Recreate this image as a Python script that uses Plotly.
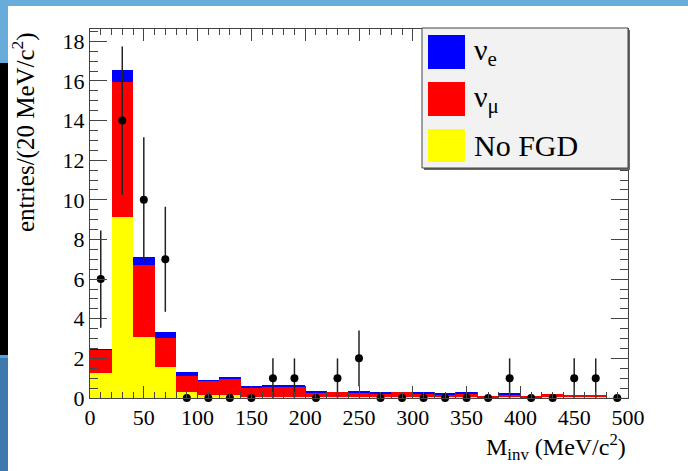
import plotly.graph_objects as go

# ---- data ----
bin_centers = [10, 30, 50, 70, 90, 110, 130, 150, 170, 190, 210, 230, 250, 270, 290,
               310, 330, 350, 370, 390, 410, 430, 450, 470, 490]
no_fgd = [1.26, 9.14, 3.10, 1.55, 0.32, 0.15, 0.13, 0.05, 0.05, 0.04, 0.04, 0.04, 0.04,
          0.04, 0.04, 0.04, 0.04, 0.04, 0.03, 0.04, 0.03, 0.10, 0.03, 0.03, 0.03]
nu_mu = [1.19, 6.81, 3.63, 1.49, 0.81, 0.71, 0.83, 0.47, 0.54, 0.52, 0.25, 0.27, 0.23,
         0.20, 0.25, 0.20, 0.16, 0.20, 0.06, 0.15, 0.06, 0.10, 0.11, 0.11, 0.00]
nu_e = [0.02, 0.59, 0.39, 0.28, 0.20, 0.03, 0.07, 0.04, 0.09, 0.05, 0.08, 0.00, 0.05,
        0.08, 0.00, 0.07, 0.05, 0.07, 0.00, 0.06, 0.00, 0.00, 0.00, 0.00, 0.00]
data_counts = [6, 14, 10, 7, 0, 0, 0, 0, 1, 1, 0, 1, 2, 0, 0, 0, 0, 0, 0, 1, 0, 0, 1, 1, 0]
data_errors = [2.45, 3.74, 3.16, 2.65, 0, 0, 0, 0, 1, 1, 0, 1, 1.41, 0, 0, 0, 0, 0, 0, 1,
               0, 0, 1, 1, 0]
x_ticks = [0, 50, 100, 150, 200, 250, 300, 350, 400, 450, 500]
y_ticks = [0, 2, 4, 6, 8, 10, 12, 14, 16, 18]

W, H = 688, 471
ML, MR, MT, MB = 90, 60, 29, 73
PW, PH = W - ML - MR, H - MT - MB


def px(xp):
    return (xp - ML) / PW


def py(yp):
    return (H - MB - yp) / PH


FONT = "Liberation Serif"

fig = go.Figure()
fig.add_trace(go.Bar(x=bin_centers, y=no_fgd, width=20, marker=dict(color="#ffff00", line=dict(width=0)), name="No FGD"))
fig.add_trace(go.Bar(x=bin_centers, y=nu_mu, width=20, marker=dict(color="#ff0000", line=dict(width=0)), name="ν_μ"))
fig.add_trace(go.Bar(x=bin_centers, y=nu_e, width=20, marker=dict(color="#0000ff", line=dict(width=0)), name="ν_e"))
fig.add_trace(go.Scatter(
    x=bin_centers, y=data_counts, mode="markers",
    marker=dict(color="black", size=8),
    error_y=dict(type="data", array=data_errors, visible=True, color="#222222", thickness=1.5, width=0),
    cliponaxis=False, name="data"))

axis_common = dict(
    showline=True, linecolor="#444444", linewidth=1, mirror="ticks",
    ticks="inside", tickcolor="#444444", showgrid=False, zeroline=False,
    tickfont=dict(family=FONT, size=22, color="black"),
)
fig.update_xaxes(range=[0, 500], tickvals=x_ticks, ticklen=12, tickwidth=1,
                 minor=dict(ticks="inside", dtick=10, ticklen=6, tickcolor="#444444", showgrid=False),
                 **axis_common)
fig.update_yaxes(range=[0, 18.62], tickvals=y_ticks, ticklen=17, tickwidth=1,
                 minor=dict(ticks="inside", dtick=0.5, ticklen=8, tickcolor="#444444", showgrid=False),
                 **axis_common)

shapes = []
# screenshot frame decoration
shapes.append(dict(type="rect", xref="paper", yref="paper", x0=px(0), x1=px(W), y0=py(6), y1=py(0),
                   fillcolor="#68acda", line=dict(width=0), layer="above"))
shapes.append(dict(type="rect", xref="paper", yref="paper", x0=px(0), x1=px(8), y0=py(63), y1=py(0),
                   fillcolor="#68acda", line=dict(width=0), layer="above"))
shapes.append(dict(type="rect", xref="paper", yref="paper", x0=px(0), x1=px(8), y0=py(355), y1=py(63),
                   fillcolor="#000000", line=dict(width=0), layer="above"))
shapes.append(dict(type="rect", xref="paper", yref="paper", x0=px(0), x1=px(8), y0=py(358), y1=py(355),
                   fillcolor="#4aa6e6", line=dict(width=0), layer="above"))
shapes.append(dict(type="rect", xref="paper", yref="paper", x0=px(0), x1=px(8), y0=py(H), y1=py(358),
                   fillcolor="#3d79ad", line=dict(width=0), layer="above"))

# legend box
shapes.append(dict(type="rect", xref="paper", yref="paper", x0=px(424), x1=px(630), y0=py(170), y1=py(30),
                   fillcolor="#666666", line=dict(width=0), layer="above"))
shapes.append(dict(type="rect", xref="paper", yref="paper", x0=px(422), x1=px(628), y0=py(168), y1=py(28),
                   fillcolor="#f2f2f2", line=dict(color="#444444", width=1), layer="above"))
legend_items = [("ν<sub>e</sub>", "#0000ff", 35, 69), ("ν<sub>μ</sub>", "#ff0000", 82, 116),
                ("No FGD", "#ffff00", 129, 162)]
annotations = []
for label, col, y0, y1 in legend_items:
    shapes.append(dict(type="rect", xref="paper", yref="paper", x0=px(428), x1=px(465), y0=py(y1), y1=py(y0),
                       fillcolor=col, line=dict(width=0), layer="above"))
    annotations.append(dict(text=label, xref="paper", yref="paper", x=px(472), y=py((y0 + y1) / 2),
                            xanchor="left", yanchor="middle", showarrow=False,
                            font=dict(family=FONT, size=30, color="black")))

annotations.append(dict(text="M<sub>inv</sub> (MeV/c<sup>2</sup>)", xref="paper", yref="paper",
                        x=px(628), y=py(447), xanchor="right", yanchor="middle", showarrow=False,
                        font=dict(family=FONT, size=24, color="black")))
annotations.append(dict(text="entries/(20 MeV/c<sup>2</sup>)", xref="paper", yref="paper",
                        x=px(23), y=py(30), xanchor="center", yanchor="top", textangle=-90, showarrow=False,
                        font=dict(family=FONT, size=25, color="black")))

fig.update_layout(
    width=W, height=H, margin=dict(l=ML, r=MR, t=MT, b=MB),
    barmode="stack", bargap=0, showlegend=False,
    plot_bgcolor="white", paper_bgcolor="white",
    shapes=shapes, annotations=annotations,
)

fig.write_html("out.html")
